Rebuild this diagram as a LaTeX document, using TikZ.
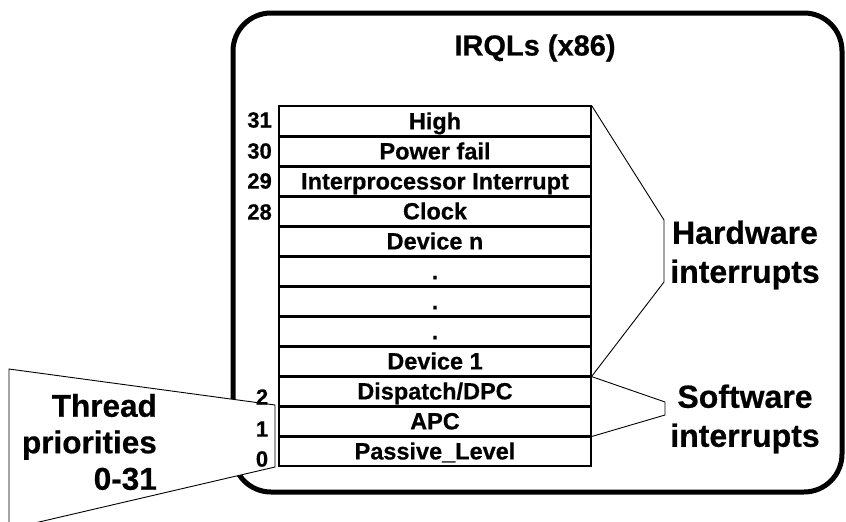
\documentclass[tikz,border=0pt]{standalone}
\usepackage{fontspec}
\setmainfont{Liberation Sans}[BoldFeatures={FakeBold=0.6}]
\begin{document}
\begin{tikzpicture}[x=1pt,y=-1pt,
  irqlrow/.style={draw,line width=1.1pt,minimum width=312pt,minimum height=30pt,
    inner sep=0pt,text height=16.8pt,text depth=0pt,
    font=\fontsize{23.5}{25}\selectfont\bfseries},
  levelnum/.style={inner sep=0pt,font=\fontsize{22}{24}\selectfont\bfseries},
  biglabel/.style={inner sep=0pt,align=center,font=\fontsize{32}{39}\selectfont\bfseries},
  thin/.style={line width=0.9pt}]
\useasboundingbox (0,0) rectangle (846,522);
\clip (0,0) rectangle (846,522);

% outer frame
\draw[line width=5pt,rounded corners=38pt] (233,13) rectangle (842,492);
\node[inner sep=0pt,font=\fontsize{29}{31}\selectfont\bfseries] (title) at (535,48) {IRQLs (x86)};

% IRQL table rows
\foreach \i/\t in {1/High,2/Power fail,3/Interprocessor Interrupt,4/Clock,5/Device n,
                   6/.,7/.,8/.,9/Device 1,10/{Dispatch/DPC},11/APC,12/Passive\_Level}
  \node[irqlrow] (r\i) at (435,{106+30*(\i-0.5)}) {\t};
\foreach \i in {1,...,11}
  \draw[line width=2pt] (r\i.south west) -- (r\i.south east);

% thread priority callout
\draw[thin,fill=white] (9,369) -- (275,405) -- (275,467) -- (9,529) -- cycle;
\node[inner sep=0pt,align=right,anchor=east,
      font=\fontsize{31.5}{36.5}\selectfont\bfseries] (thread) at (157,442)
      {Thread\\priorities\\0-31};

% level numbers
\node[levelnum,anchor=east] (n31) at (272,120) {31};
\node[levelnum,anchor=east] (n30) at (272,151) {30};
\node[levelnum,anchor=east] (n29) at (272,181) {29};
\node[levelnum,anchor=east] (n28) at (272,212) {28};
\node[levelnum] (n2) at (262,397) {2};
\node[levelnum] (n1) at (262,429) {1};
\node[levelnum] (n0) at (262,459) {0};

% hardware / software brackets
\coordinate (hw1) at (664,220);
\coordinate (hw2) at (664,282);
\coordinate (sw1) at (665,402);
\coordinate (sw2) at (665,415);
\draw[thin] (r1.north east) -- (hw1) -- (hw2) -- (r9.south east);
\draw[thin] (r9.south east) -- (sw1) -- (sw2) -- (r11.south east);

\node[biglabel] (hw) at (745,255) {Hardware\\interrupts};
\node[biglabel] (sw) at (745,419) {Software\\interrupts};
\end{tikzpicture}
\end{document}
